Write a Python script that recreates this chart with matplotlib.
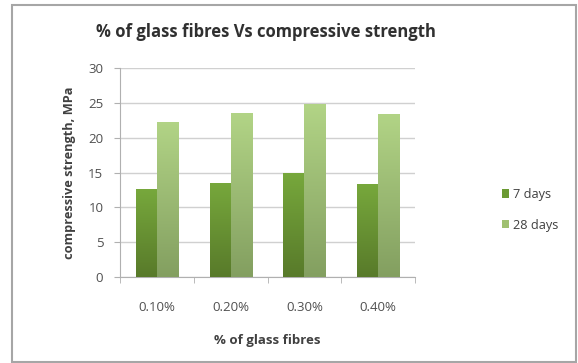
import matplotlib.pyplot as plt
import numpy as np
from matplotlib.patches import Rectangle

plt.rcParams['font.family'] = ['Open Sans', 'DejaVu Sans']

fibre_pct = ['0.10%', '0.20%', '0.30%', '0.40%']
days_7 = [12.6, 13.5, 15.0, 13.3]
days_28 = [22.3, 23.5, 24.8, 23.4]

fig = plt.figure(figsize=(5.78, 3.63), dpi=100)
fig.patch.set_facecolor('white')

# chart border
fig.add_artist(Rectangle((12 / 578, 0.003), 564 / 578, 1 - 5 / 363 - 0.003,
                         transform=fig.transFigure, fill=False,
                         edgecolor='#a6a6a6', linewidth=1.5))

ax = fig.add_axes([120 / 578, 1 - 277 / 363, 295 / 578, 209 / 363])

x = np.arange(len(fibre_pct))
w = 1 / 3.5
bars7 = ax.bar(x - w / 2, days_7, w, color='#6b9a32', label='7 days', zorder=2)
bars28 = ax.bar(x + w / 2, days_28, w, color='#9fc070', label='28 days', zorder=2)


def shade(bars, top, bottom):
    # vertical gradient fill inside each bar
    grad = np.linspace(0, 1, 256).reshape(-1, 1)
    c_top = np.array(plt.matplotlib.colors.to_rgb(top))
    c_bot = np.array(plt.matplotlib.colors.to_rgb(bottom))
    img = c_bot + (c_top - c_bot) * grad[..., None]
    for b in bars:
        x0, y0 = b.get_x(), b.get_y()
        im = ax.imshow(img, extent=[x0, x0 + b.get_width(), y0, y0 + b.get_height()],
                       origin='lower', aspect='auto', zorder=3)
        im.set_clip_path(b)


shade(bars7, '#77a83c', '#587a2a')
shade(bars28, '#b2d486', '#839f60')

ax.set_xlim(-0.5, 3.5)
ax.set_ylim(0, 30)
ax.set_yticks(range(0, 31, 5))
ax.set_xticks(x)
ax.set_xticklabels(fibre_pct)
ax.set_xticks(np.arange(-0.5, 4, 1), minor=True)
ax.tick_params(axis='x', which='major', length=0, pad=17, labelsize=9.5, colors='#505050')
ax.tick_params(axis='x', which='minor', length=4, color='#b0b0b0', direction='out')
ax.tick_params(axis='y', length=4, color='#b0b0b0', pad=8, labelsize=9.5, colors='#505050')
ax.grid(axis='y', color='#d0d0d0', linewidth=1, zorder=0)
for s in ['top', 'right']:
    ax.spines[s].set_visible(False)
for s in ['left', 'bottom']:
    ax.spines[s].set_color('#b0b0b0')

ax.set_xlabel('% of glass fibres', fontsize=9.5, fontweight='bold', color='#404040', labelpad=15)
ax.set_ylabel('compressive strength, MPa', fontsize=9.2, fontweight='bold', color='#404040', labelpad=9)

fig.text(266 / 578, 1 - 32 / 363, '% of glass fibres Vs compressive strength',
         ha='center', va='center', fontsize=12, fontweight='bold', color='#303030')

fig.legend(handles=[bars7, bars28], loc='center left', bbox_to_anchor=(490 / 578, 1 - 210 / 363),
           frameon=False, fontsize=9.2, handlelength=0.6, handleheight=0.6,
           handletextpad=0.3, labelspacing=1.4, labelcolor='#404040')

fig.savefig('out.png', dpi=100)
